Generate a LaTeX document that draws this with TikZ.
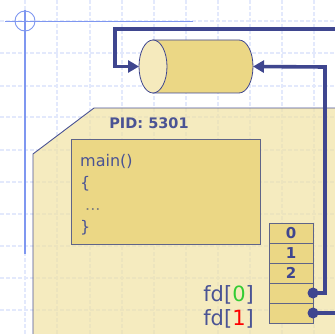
\documentclass[tikz,border=0pt]{standalone}
\usepackage{fontspec}
\setmainfont{DejaVu Sans}
\definecolor{PipeBlue}{HTML}{3F468F}
\definecolor{InkBlue}{HTML}{4A5394}
\definecolor{EdgeBlue}{HTML}{5F6488}
\definecolor{GuideBlue}{HTML}{7F97F0}
\definecolor{GridBlue}{HTML}{E3E9FC}
\definecolor{PaleSand}{HTML}{F5EABD}
\definecolor{WashSand}{HTML}{F1E3A4}
\definecolor{DeepSand}{HTML}{EBD785}
\definecolor{ReadGreen}{HTML}{33CC33}
\usetikzlibrary{shapes.geometric, arrows.meta, positioning}
\tikzset{
  % Box styles
  codebox/.style={rectangle, draw=EdgeBlue, fill=DeepSand, line width=1pt, minimum width=189pt, minimum height=105pt, inner sep=0pt},
  fdrow/.style={rectangle, draw=EdgeBlue, fill=DeepSand, line width=0.9pt, minimum width=44pt, minimum height=20pt, inner sep=0pt, outer sep=0pt, text=PipeBlue, font=\fontsize{15}{15}\selectfont\bfseries},
  pipebody/.style={rectangle, minimum width=114pt, minimum height=53pt, inner sep=0pt, outer sep=0pt},
  pipeend/.style={ellipse, draw=PipeBlue, fill=PaleSand, line width=0.8pt, minimum width=28pt, minimum height=53pt, inner sep=0pt, outer sep=0pt},
  % Arrow styles
  pipeline/.style={line width=3.6pt, PipeBlue},
  pipearrow/.style={pipeline, -{Triangle[length=11pt,width=12pt]}},
  % Node styles
  dotnode/.style={circle, fill=PipeBlue, minimum size=11pt, inner sep=0pt},
  fdlabel/.style={text=InkBlue, font=\fontsize{21}{21}\selectfont, inner sep=0pt, anchor=east},
  gridline/.style={GridBlue, line width=1.3pt, dash pattern=on 4pt off 2pt},
  guide/.style={GuideBlue, line width=0.9pt}
}
\begin{document}
\begin{tikzpicture}[x=1pt,y=-1pt]
  \useasboundingbox (0,0) rectangle (334,334);

  % Layout grid
  \foreach \gx in {25,57,90,122,154,186,218,250,282,314}
    \draw[gridline] (\gx,0) -- (\gx,334);
  \foreach \gy in {21,53,86,117,150,182,214,246,278,310}
    \draw[gridline] (0,\gy) -- (334,\gy);

  % Guides
  \draw[guide, line width=2pt] (25,10) -- (25,254);
  \draw[guide] (5,21) -- (193,21);
  \draw[guide] (25,21) circle (10);

  % Process
  \path[fill=WashSand, fill opacity=0.7] (33,336) -- (33,154) -- (94,108) -- (336,108) -- (336,336) -- cycle;
  \draw[InkBlue, line width=0.9pt] (33,336) -- (33,154) -- (94,108) -- (336,108);
  \node[text=InkBlue, font=\fontsize{14.5}{14.5}\selectfont\bfseries] (pid) at (149,123) {PID: 5301};

  % Code
  \node[codebox] (code) at (165.5,191.5) {};
  \node[text=InkBlue, font=\fontsize{16}{22}\selectfont, align=left, anchor=north west, inner sep=0pt] (src) at (80,154) {main()\\\{\\\hspace*{5pt}{\color{gray}...}\\\}};

  % Descriptor table
  \node[fdrow] (row0) at (291,233) {0};
  \node[fdrow, below=0pt of row0] (row1) {1};
  \node[fdrow, below=0pt of row1] (row2) {2};
  \node[fdrow, below=0pt of row2] (fd0) {};
  \node[fdrow, below=0pt of fd0] (fd1) {};
  \node[fdlabel, left=15pt of fd0.west, yshift=-2pt] (lab0) {fd[{\color{ReadGreen}0}]};
  \node[fdlabel, left=15pt of fd1.west, yshift=-6pt] (lab1) {fd[{\color{red}1}]};
  \node[dotnode] (dot0) at (fd0.east) {};
  \node[dotnode] (dot1) at (fd1.east) {};

  % Pipe
  \node[pipebody] (pipe) at (196,66.5) {};
  \draw[draw=PipeBlue, fill=DeepSand, line width=0.8pt] ([xshift=14pt]pipe.north west) -- ([xshift=-14pt]pipe.north east)
    arc[start angle=-90, end angle=90, x radius=14, y radius=26.5] -- ([xshift=14pt]pipe.south west) -- cycle;
  \node[pipeend] (pipecap) at ([xshift=14pt]pipe.west) {};
  \coordinate (offtop) at (340,29);
  \coordinate (offside) at (340,313);
  \coordinate (bendtop) at (115,29);
  \coordinate (bendright) at (325,67);

  % Arrows
  \draw[pipeline] (dot1.center) -- (offside);
  \draw[pipearrow] (offtop) -- (bendtop) |- (pipecap.west);
  \draw[pipearrow] (dot0.center) -| (bendright) -- (pipe.east);
\end{tikzpicture}
\end{document}
